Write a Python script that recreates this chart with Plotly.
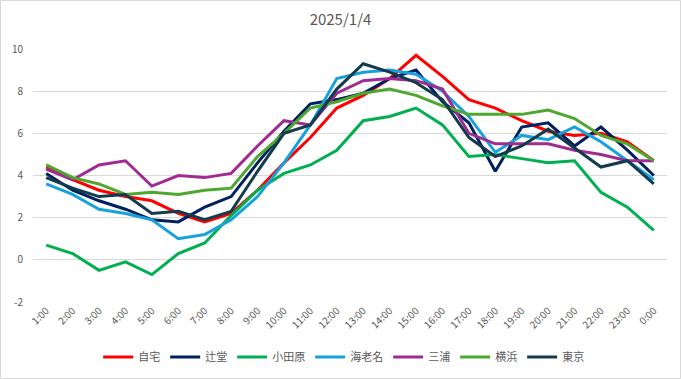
import plotly.graph_objects as go

hours = ["1:00", "2:00", "3:00", "4:00", "5:00", "6:00", "7:00", "8:00", "9:00", "10:00",
         "11:00", "12:00", "13:00", "14:00", "15:00", "16:00", "17:00", "18:00", "19:00",
         "20:00", "21:00", "22:00", "23:00", "0:00"]

y_ticks = [-2, 0, 2, 4, 6, 8, 10]
y_tick_labels = ["-2", "0", "2", "4", "6", "8", "10"]

jitaku = [4.4, 3.8, 3.3, 3.0, 2.8, 2.2, 1.8, 2.2, 3.3, 4.6, 5.8, 7.2, 7.8, 8.6, 9.7, 8.7,
          7.6, 7.2, 6.6, 6.1, 5.9, 6.0, 5.6, 4.7]
tsujido = [4.1, 3.3, 2.8, 2.4, 1.9, 1.8, 2.5, 3.0, 4.6, 6.1, 7.4, 7.6, 7.9, 8.6, 9.0, 7.5,
           6.5, 4.2, 6.3, 6.5, 5.4, 6.3, 5.2, 4.0]
odawara = [0.7, 0.3, -0.5, -0.1, -0.7, 0.3, 0.8, 2.1, 3.3, 4.1, 4.5, 5.2, 6.6, 6.8, 7.2, 6.4,
           4.9, 5.0, 4.8, 4.6, 4.7, 3.2, 2.5, 1.4]
ebina = [3.6, 3.1, 2.4, 2.2, 1.9, 1.0, 1.2, 1.9, 3.0, 4.6, 6.4, 8.6, 8.9, 9.0, 8.8, 8.0,
         6.8, 5.1, 5.9, 5.7, 6.3, 5.6, 4.7, 3.8]
miura = [4.3, 3.8, 4.5, 4.7, 3.5, 4.0, 3.9, 4.1, 5.4, 6.6, 6.4, 7.9, 8.5, 8.6, 8.5, 8.1,
         6.0, 5.5, 5.5, 5.5, 5.2, 5.0, 4.7, 4.7]
yokohama = [4.5, 3.9, 3.6, 3.1, 3.2, 3.1, 3.3, 3.4, 4.9, 6.0, 7.2, 7.5, 7.9, 8.1, 7.8, 7.3,
            6.9, 6.9, 6.9, 7.1, 6.7, 5.9, 5.5, 4.7]
tokyo = [3.9, 3.4, 3.0, 3.1, 2.2, 2.3, 1.9, 2.3, 4.2, 6.0, 6.4, 8.1, 9.3, 8.9, 8.4, 7.6,
         5.8, 4.9, 5.4, 6.2, 5.3, 4.4, 4.7, 3.6]

series = [
    ("自宅", jitaku, "#FF0000"),
    ("辻堂", tsujido, "#002060"),
    ("小田原", odawara, "#00B050"),
    ("海老名", ebina, "#18A2DC"),
    ("三浦", miura, "#A02B93"),
    ("横浜", yokohama, "#4EA72E"),
    ("東京", tokyo, "#123B4E"),
]

FONT = "Noto Sans CJK JP"
fig = go.Figure()
for name, vals, col in series:
    fig.add_trace(go.Scatter(x=hours, y=vals, name=name, mode="lines",
                             line=dict(color=col, width=3)))

W, H = 681, 379
L, R, T, B = 33, 14, 49, 77
pw, ph = W - L - R, H - T - B

fig.update_layout(
    width=W, height=H,
    margin=dict(l=L, r=R, t=T, b=B, autoexpand=False),
    paper_bgcolor="white", plot_bgcolor="white",
    font=dict(family=FONT, color="#595959", size=10),
    title=dict(text="2025/1/4", x=0.5, xanchor="center", y=1 - 20 / H, yanchor="middle",
               yref="container", font=dict(size=15, color="#595959", family=FONT)),
    showlegend=True,
    legend=dict(orientation="h", x=0.49, xanchor="center", y=1 - 357 / H, yanchor="middle",
                yref="container",
                font=dict(size=11, color="#595959", family=FONT), itemwidth=30,
                bgcolor="rgba(0,0,0,0)"),
    xaxis=dict(type="category", tickangle=-45, showgrid=False, showline=False, ticks="",
               automargin=False,
               tickfont=dict(size=10, color="#595959"), range=[-0.5, 23.5]),
    yaxis=dict(range=[-2, 10], tickvals=y_ticks, ticktext=y_tick_labels, showgrid=True,
               gridcolor="#D9D9D9", gridwidth=1, automargin=False, ticklabelstandoff=9,
               zeroline=False, showline=False, ticks="", tickfont=dict(size=10, color="#595959")),
    shapes=[dict(type="rect", xref="paper", yref="paper",
                 x0=-(L - 0.5) / pw, x1=1 + (R - 0.5) / pw,
                 y0=-(B - 0.5) / ph, y1=1 + (T - 0.5) / ph,
                 line=dict(color="#D9D9D9", width=1), fillcolor="rgba(0,0,0,0)", layer="below")],
)

fig.write_html("out.html", config={"displayModeBar": False},
               post_script="document.body.style.margin='0';document.body.style.overflow='hidden';")
